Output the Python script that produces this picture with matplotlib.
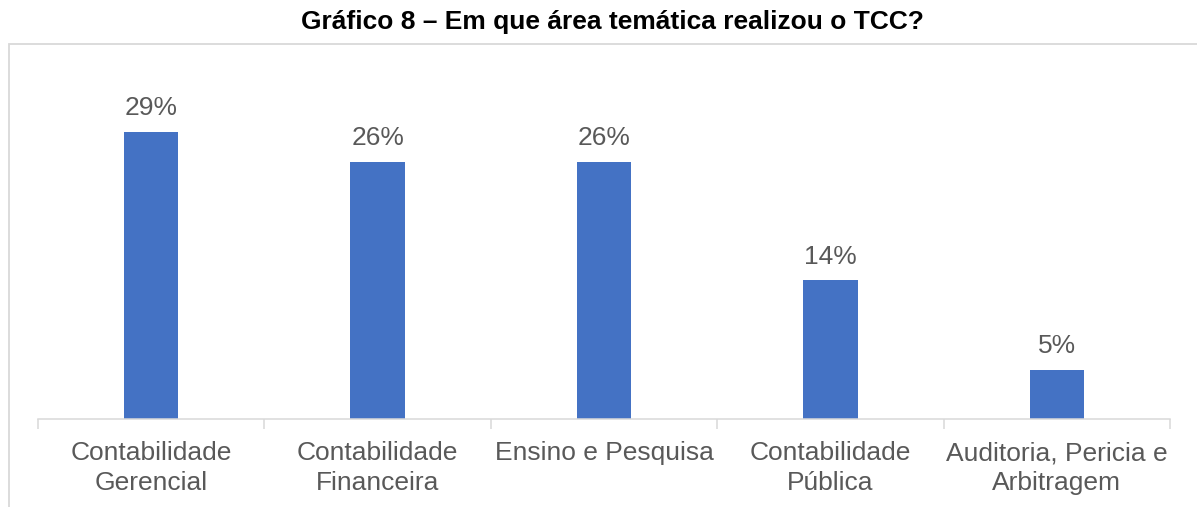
import matplotlib.pyplot as plt
from matplotlib.patches import Rectangle

# Chart data
categories = ["Contabilidade\nGerencial", "Contabilidade\nFinanceira", "Ensino e Pesquisa",
              "Contabilidade\nPública", "Auditoria, Pericia e\nArbitragem"]
values = [29, 26, 26, 14, 5]
title = "Gráfico 8 – Em que área temática realizou o TCC?"

kBAR_COLOR = "#4472C4"
kTEXT_COLOR = "#595959"
kLINE_COLOR = "#D9D9D9"

W, H = 1197, 507
plt.rcParams['font.family'] = ['Liberation Sans', 'DejaVu Sans']

fig = plt.figure(figsize=(W / 100, H / 100), dpi=100)

# outer frame, cut off at the right and bottom like the source
fig.patches.append(Rectangle((9 / W, -0.1), 1.2, 1 - 44 / H + 0.1, transform=fig.transFigure,
                             fill=False, edgecolor=kLINE_COLOR, linewidth=1.3))

fig.text(612 / W, 1 - 22 / H, title, ha="center", va="center",
         fontsize=19, fontweight="bold", color="black")

ax = fig.add_axes([38 / W, 88 / H, (1170 - 38) / W, (419 - 72.5) / H])
x = list(range(len(categories)))
ax.bar(x, values, width=0.24, color=kBAR_COLOR)
for xi, v in zip(x, values):
    ax.text(xi, v + 1.2, "{0}%".format(v), ha="center", va="bottom",
            fontsize=19, color=kTEXT_COLOR)

ax.set_xlim(-0.5, len(categories) - 0.5)
ax.set_ylim(0, 35)
ax.set_yticks([])
ax.set_xticks(x)
ax.set_xticklabels(categories, fontsize=19, color=kTEXT_COLOR, linespacing=1.32)
ax.tick_params(axis="x", which="major", length=0, pad=16)
ax.set_xticks([i - 0.5 for i in range(len(categories) + 1)], minor=True)
ax.tick_params(axis="x", which="minor", length=7, width=1.1, color=kLINE_COLOR)
for s in ["top", "left", "right"]:
    ax.spines[s].set_visible(False)
ax.spines["bottom"].set_color(kLINE_COLOR)
ax.spines["bottom"].set_linewidth(1.1)
ax.patch.set_visible(False)

fig.savefig("out.png", dpi=100)
